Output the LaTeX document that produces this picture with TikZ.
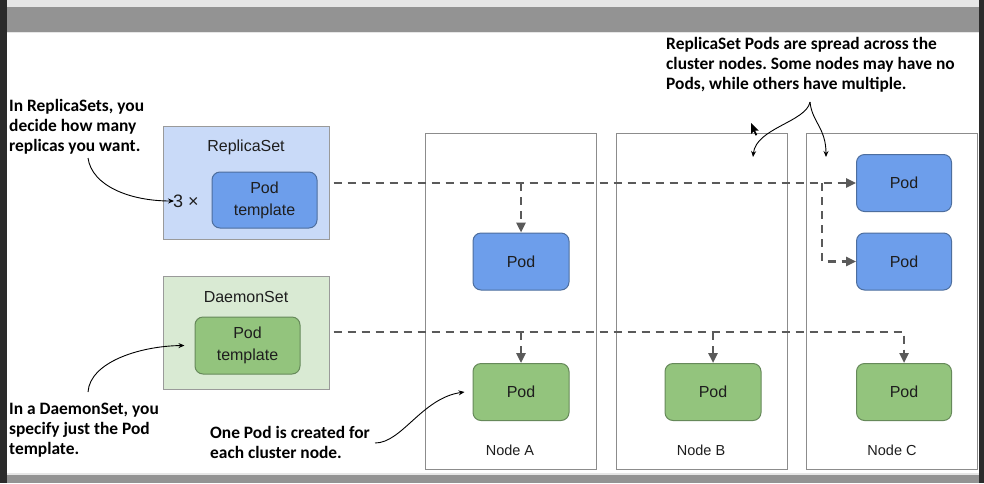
\documentclass[tikz,border=0pt]{standalone}
\usepackage{fontspec}
\setmainfont{Liberation Sans}
\newfontfamily\notefont{Carlito}
\usetikzlibrary{arrows.meta}
\frenchspacing

\definecolor{framedark}{HTML}{2B2B2B}
\definecolor{framebar}{HTML}{939393}
\definecolor{framelight}{HTML}{E6E6E6}
\definecolor{rsfill}{HTML}{C9DAF8}
\definecolor{dsfill}{HTML}{D9EAD3}
\definecolor{podblue}{HTML}{6D9EEB}
\definecolor{podblueline}{HTML}{4D6E9E}
\definecolor{podgreen}{HTML}{93C47D}
\definecolor{podgreenline}{HTML}{66895A}
\definecolor{boxline}{HTML}{9A9A9A}
\definecolor{hostline}{HTML}{8C8C8C}
\definecolor{flowgray}{HTML}{5A5A5A}
\definecolor{labeltext}{HTML}{1E1E1E}

\tikzset{
  lbl/.style={inner sep=0pt, text=labeltext, font=\fontsize{16}{22}\selectfont},
  setbox/.style={draw=boxline, line width=1pt, inner sep=0pt},
  hostbox/.style={draw=hostline, line width=1pt, fill=white, inner sep=0pt,
    minimum width=171, minimum height=336},
  podbox/.style={rounded corners=8pt, line width=1pt, inner sep=0pt,
    text=labeltext, font=\fontsize{16}{22}\selectfont, align=center},
  bluepod/.style={podbox, draw=podblueline, fill=podblue},
  greenpod/.style={podbox, draw=podgreenline, fill=podgreen},
  flow/.style={draw=flowgray, line width=2.4pt, dash pattern=on 8pt off 6pt},
  flowtip/.style={-{Triangle[length=10pt,width=9pt]}},
  note/.style={inner sep=0pt, anchor=north west, align=left,
    font=\notefont\bfseries\fontsize{17.4}{20}\selectfont, text=black},
  notearrow/.style={draw=black, line width=0.9pt, -{Stealth[length=6pt,width=5pt]}}
}

\begin{document}
\begin{tikzpicture}[x=1pt,y=-1pt]
  \useasboundingbox (0,0) rectangle (984,483);

  % window frame around the canvas
  \fill[framedark] (0,0) rectangle (984,483);
  \fill[white] (7,33) rectangle (979,474);
  \fill[framelight] (7,0) rectangle (979,7);
  \fill[framebar] (7,7) rectangle (979,32);
  \fill[framelight] (7,32) rectangle (979,33);
  \fill[framelight] (7,473) rectangle (979,475);
  \fill[framebar] (7,475) rectangle (979,483);

  % controllers
  \node[setbox, fill=rsfill, minimum width=166, minimum height=113] (rs) at (246,182.5) {};
  \node[lbl] (rslabel) at (246,147) {ReplicaSet};
  \node[bluepod, minimum width=105, minimum height=56] (rstpl) at (264.5,200) {Pod\\template};
  \node[lbl, font=\fontsize{18}{22}\selectfont] (count) at (186,201) {3 \texttimes};

  \node[setbox, fill=dsfill, minimum width=166, minimum height=113] (ds) at (246,332.5) {};
  \node[lbl] (dslabel) at (246,297) {DaemonSet};
  \node[greenpod, minimum width=105, minimum height=57] (dstpl) at (247.5,345.5) {Pod\\template};

  % cluster nodes
  \node[hostbox] (hostA) at (510.5,301) {};
  \node[hostbox] (hostB) at (701.5,301) {};
  \node[hostbox] (hostC) at (891.5,301) {};
  \node[lbl, font=\fontsize{14.5}{18}\selectfont] (nameA) at (510,450) {Node A};
  \node[lbl, font=\fontsize{14.5}{18}\selectfont] (nameB) at (701,450) {Node B};
  \node[lbl, font=\fontsize{14.5}{18}\selectfont] (nameC) at (892,450) {Node C};

  % pods on the nodes
  \node[bluepod, minimum width=96, minimum height=57] (podA1) at (521,261.5) {Pod};
  \node[bluepod, minimum width=95, minimum height=57] (podC1) at (904,183) {Pod};
  \node[bluepod, minimum width=95, minimum height=57] (podC2) at (904,261.5) {Pod};
  \node[greenpod, minimum width=96, minimum height=57] (podA2) at (521,392) {Pod};
  \node[greenpod, minimum width=96, minimum height=57] (podB2) at (713,392) {Pod};
  \node[greenpod, minimum width=95, minimum height=57] (podC3) at (904,392) {Pod};

  % ReplicaSet scheduling paths
  \coordinate (splitC) at (822,183);
  \draw[flow, flowtip] ([xshift=4pt]rs.east |- podC1.west) -- (podC1.west);
  \draw[flow, flowtip] (podA1.north |- podC1.west) -- (podA1.north);
  \draw[flow, flowtip] (splitC) |- (podC2.west);

  % DaemonSet scheduling paths
  \draw[flow, flowtip] ([xshift=4pt]ds.east |- 0,332) -| (podC3.north);
  \draw[flow, flowtip] (podA2.north |- 0,332) -- (podA2.north);
  \draw[flow, flowtip] (podB2.north |- 0,332) -- (podB2.north);

  % notes
  \node[note] (noteRS) at (9,99.5) {In ReplicaSets, you\\decide how many\\replicas you want.};
  \node[note] (noteDS) at (9,403) {In a DaemonSet, you\\specify just the Pod\\template.};
  \node[note] (notePerNode) at (210,426) {One Pod is created for\\each cluster node.};
  \node[note] (noteSpread) at (666,37) {ReplicaSet Pods are spread across the\\cluster nodes. Some nodes may have no\\Pods, while others have multiple.};

  \coordinate (n1) at (88,158);
  \coordinate (n2) at (88,392);
  \coordinate (n3) at (375,443);
  \coordinate (n4) at (810,102);
  \draw[notearrow] (n1) .. controls (92,186) and (130,201) .. ([xshift=1pt]count.west);
  \draw[notearrow] (n2) .. controls (90,362) and (140,346) .. ([xshift=-10pt]dstpl.west);
  \draw[notearrow] (n3) .. controls (402,443) and (422,398) .. ([xshift=-8pt]podA2.west);
  \draw[notearrow] (n4) .. controls (806,122) and (756,128) .. (753,157);
  \draw[notearrow] (n4) .. controls (812,122) and (826,128) .. (826,157);

  % mouse pointer
  \fill[black] (751,123) -- (751,134) -- (753.6,131.4) -- (755.6,135.6) -- (757.2,134.8)
    -- (755.2,130.7) -- (758.8,130.7) -- cycle;
\end{tikzpicture}
\end{document}
